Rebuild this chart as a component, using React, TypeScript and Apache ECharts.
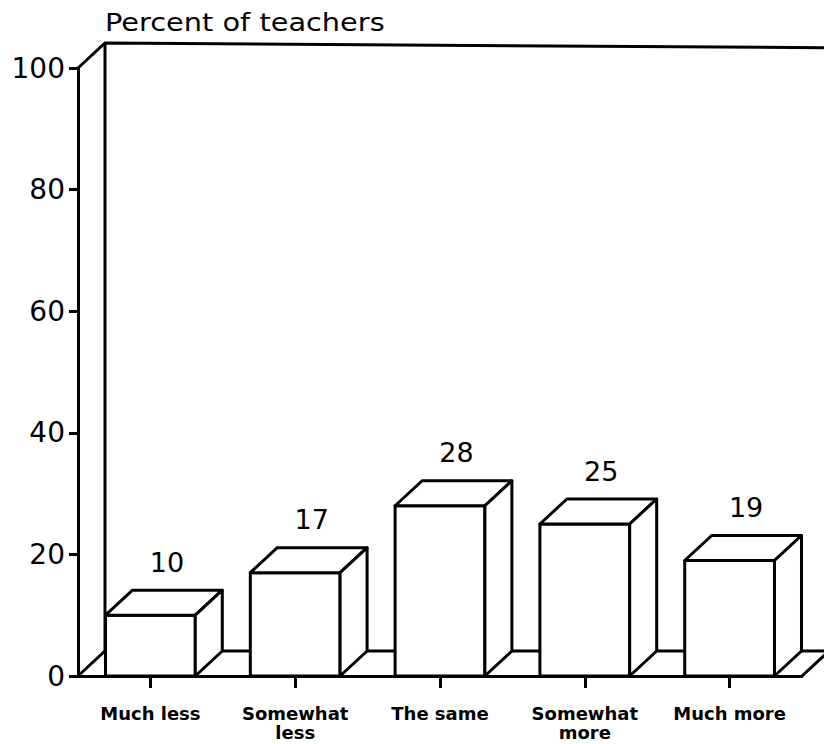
import React, { useEffect, useRef } from "react";
import * as echarts from "echarts";

const categories = ["Much less", "Somewhat\nless", "The same", "Somewhat\nmore", "Much more"];
const values = [10, 17, 28, 25, 19];
const yMin = 0;
const yMax = 100;
const yStep = 20;
const titleText = "Percent of teachers";

const DX = 27;
const DY = -25;
const LW = 3;

export default function App() {
  const ref = useRef<HTMLDivElement>(null);
  useEffect(() => {
    if (!ref.current) return;
    const chart = echarts.init(ref.current, null, { renderer: "svg" });
    const option: any = {
      animation: false,
      backgroundColor: "#fff",
      grid: { left: 78, width: 724, top: 68, bottom: 68, containLabel: false },
      graphic: [
        {
          type: "text",
          x: 105,
          y: 22,
          scaleX: 1.2,
          style: {
            text: titleText,
            fontSize: 24,
            fontFamily: "DejaVu Sans",
            fill: "#000",
            align: "left",
            verticalAlign: "middle",
            textAlign: "left",
            textVerticalAlign: "middle",
          },
        },
      ],
      xAxis: {
        type: "category",
        data: categories,
        axisLine: { show: true, lineStyle: { color: "#000", width: LW } },
        axisTick: { show: true, alignWithLabel: true, length: 12, lineStyle: { color: "#000", width: LW } },
        axisLabel: {
          interval: 0,
          color: "#000",
          fontSize: 18,
          fontWeight: "bold",
          fontFamily: "DejaVu Sans",
          lineHeight: 19,
          margin: 28,
        },
        splitLine: { show: false },
      },
      yAxis: {
        type: "value",
        min: yMin,
        max: yMax,
        interval: yStep,
        axisLine: { show: true, lineStyle: { color: "#000", width: LW } },
        axisTick: { show: true, length: 9, lineStyle: { color: "#000", width: LW } },
        axisLabel: { color: "#000", fontSize: 28, fontFamily: "DejaVu Sans", margin: 13 },
        splitLine: { show: false },
      },
      series: [
        {
          type: "custom",
          z: 1,
          data: [[0, 0]],
          renderItem: (params: any) => {
            const cs = params.coordSys;
            const L = cs.x;
            const R = cs.x + cs.width;
            const T = cs.y;
            const B = cs.y + cs.height;
            const style = { stroke: "#000", lineWidth: LW, fill: null };
            return {
              type: "group",
              children: [
                { type: "polyline", shape: { points: [[L, T], [L + DX, T + DY], [R + DX + 40, T + DY + 5]] }, style },
                { type: "line", shape: { x1: L + DX, y1: T + DY, x2: L + DX, y2: B + DY }, style },
                { type: "polyline", shape: { points: [[L, B], [L + DX, B + DY], [R + DX + 40, B + DY]] }, style },
                { type: "line", shape: { x1: R, y1: B, x2: R + DX, y2: B + DY }, style },
              ],
            };
          },
        },
        {
          type: "custom",
          z: 3,
          data: values.map((v, i) => [i, v]),
          renderItem: (params: any, api: any) => {
            const idx = api.value(0);
            const v = api.value(1);
            const top = api.coord([idx, v]);
            const base = api.coord([idx, 0]);
            const band = api.size([1, 0])[0];
            const w = band * 0.62;
            const x0 = top[0] - w / 2;
            const x1 = top[0] + w / 2;
            const yT = top[1];
            const yB = base[1];
            const style = { fill: "#fff", stroke: "#000", lineWidth: LW, lineJoin: "round" };
            return {
              type: "group",
              children: [
                { type: "polygon", shape: { points: [[x0, yB], [x1, yB], [x1, yT], [x0, yT]] }, style },
                { type: "polygon", shape: { points: [[x0, yT], [x1, yT], [x1 + DX, yT + DY], [x0 + DX, yT + DY]] }, style },
                { type: "polygon", shape: { points: [[x1, yB], [x1 + DX, yB + DY], [x1 + DX, yT + DY], [x1, yT]] }, style },
                {
                  type: "text",
                  style: {
                    text: String(v),
                    x: top[0] + DX / 2 + 3,
                    y: yT + DY - 28,
                    fontSize: 27,
                    fontFamily: "DejaVu Sans",
                    fill: "#000",
                    align: "center",
                    verticalAlign: "middle",
                    textAlign: "center",
                    textVerticalAlign: "middle",
                  },
                },
              ],
            };
          },
        },
      ],
    };
    chart.setOption(option);
    return () => chart.dispose();
  }, []);
  return (
    <div
      ref={ref}
      style={{ position: "fixed", left: 0, top: 0, width: 824, height: 744, background: "#fff" }}
    />
  );
}
